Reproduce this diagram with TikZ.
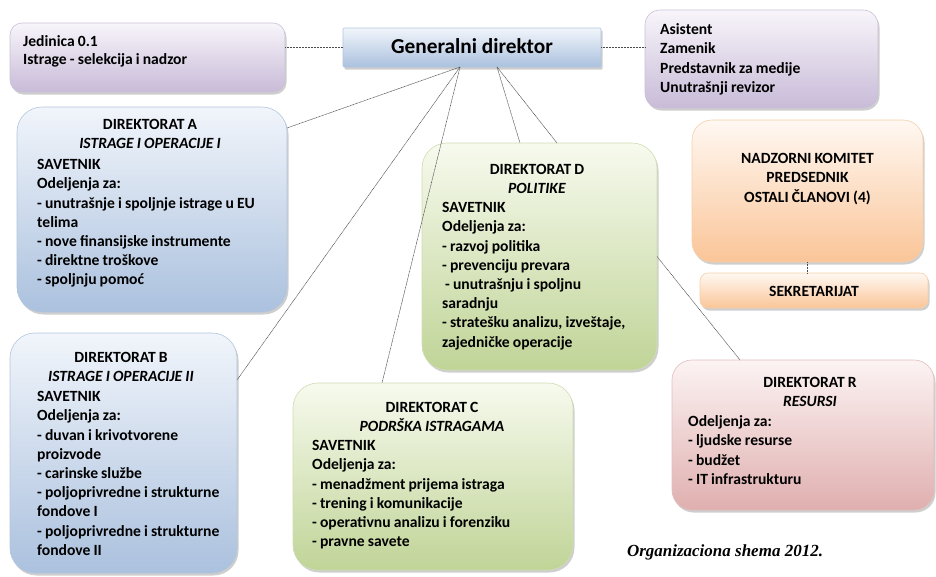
\documentclass[tikz,border=0pt]{standalone}
\usepackage{fontspec}
\setmainfont{Carlito}
\newfontfamily\capfont{Liberation Serif}
\usetikzlibrary{shadows,calc}
\newcommand\tightsp{\spaceskip=0.2em plus 0.05em\relax}

\definecolor{bluetop}{HTML}{F1F5FB}
\definecolor{bluebot}{HTML}{ABC1DE}
\definecolor{blueline}{HTML}{B2C5DD}
\definecolor{greentop}{HTML}{F7FAEE}
\definecolor{greenbot}{HTML}{C0D497}
\definecolor{greenline}{HTML}{CFDDB2}
\definecolor{orangetop}{HTML}{FFF8F2}
\definecolor{orangebot}{HTML}{FAC598}
\definecolor{orangeline}{HTML}{F6CFAA}
\definecolor{pinktop}{HTML}{FCF3F3}
\definecolor{pinkbot}{HTML}{E0AFAF}
\definecolor{pinkline}{HTML}{E2BDBD}
\definecolor{purptop}{HTML}{F8F5FA}
\definecolor{purpbot}{HTML}{C8BBD8}
\definecolor{purpline}{HTML}{CBC0D8}
\definecolor{conn}{HTML}{4A4A4A}

\tikzset{
  x=1pt, y=-1pt,
  boxbase/.style={line width=0.6pt, inner sep=0pt, outer sep=0pt,
    drop shadow={shadow xshift=1.5pt, shadow yshift=-2.5pt, opacity=0.35, fill=black!55}},
  bluebox/.style={boxbase, draw=blueline, top color=bluetop, bottom color=bluebot},
  greenbox/.style={boxbase, draw=greenline, top color=greentop, bottom color=greenbot},
  orangebox/.style={boxbase, draw=orangeline, top color=orangetop, bottom color=orangebot},
  pinkbox/.style={boxbase, draw=pinkline, top color=pinktop, bottom color=pinkbot},
  purpbox/.style={boxbase, draw=purpline, top color=purptop, bottom color=purpbot},
  bodytxt/.style={inner sep=0pt, anchor=north west, align=left,
    font=\fontsize{15.6}{19.2}\selectfont\bfseries\tightsp},
  headtxt/.style={inner sep=0pt, anchor=north, align=center,
    font=\fontsize{15.6}{19.2}\selectfont\bfseries\tightsp},
  conn/.style={draw=conn, line width=0.5pt, dash pattern=on 1pt off 0.5pt},
}

\begin{document}
\begin{tikzpicture}
\useasboundingbox (0,0) rectangle (936,576);

% boxes
\node[purpbox, rounded corners=12pt, minimum width=275pt, minimum height=69pt] (jed) at (147.5,57.5) {};
\node[bluebox, rounded corners=1pt, minimum width=258pt, minimum height=39pt] (gd) at (472,47.5) {};
\node[purpbox, rounded corners=15pt, minimum width=233pt, minimum height=98pt] (as) at (761.5,59) {};
\node[bluebox, rounded corners=25pt, minimum width=270pt, minimum height=205pt] (a) at (152,209.5) {};
\node[bluebox, rounded corners=25pt, minimum width=227pt, minimum height=240pt] (b) at (123.5,453) {};
\node[greenbox, rounded corners=25pt, minimum width=280pt, minimum height=187pt] (c) at (433,476.5) {};
\node[greenbox, rounded corners=25pt, minimum width=235pt, minimum height=227pt] (d) at (539.5,256.5) {};
\node[orangebox, rounded corners=20pt, minimum width=231pt, minimum height=142pt] (nk) at (807.5,191) {};
\node[orangebox, rounded corners=8pt, minimum width=228pt, minimum height=35pt] (sk) at (814,290.5) {};
\node[pinkbox, rounded corners=20pt, minimum width=262pt, minimum height=150pt] (r) at (803,435) {};

% fan points under the general director
\coordinate (fanl) at ($(gd.south)+(-12,0)$);
\coordinate (fanr) at ($(gd.south)+(25,0)$);

% connectors
\draw[conn] (gd.west) -- (gd.west -| jed.east);
\draw[conn] (gd.east) -- (gd.east -| as.west);
\draw[conn] (fanl) -- ($(a.north east)+(0,21)$);
\draw[conn] (fanl) -- ($(b.north east)+(0,47)$);
\draw[conn] (fanl) -- ($(c.north west)+(89,0)$);
\draw[conn] (fanr) -- ($(d.north west)+(98,0)$);
\draw[conn] (fanr) -- ($(d.north west)+(135,0)$);
\draw[conn] (d.east) -- ($(r.north west)+(68,0)$);
\draw[conn] (nk.south) -- (nk.south |- sk.north);

% texts
\node[inner sep=0pt, font=\fontsize{21.3}{25}\selectfont\bfseries] (gdt) at (472,46) {Generalni direktor};

\node[bodytxt, font=\fontsize{15.6}{18.5}\selectfont\bfseries\tightsp] (jedt) at (23,33) {\strut Jedinica 0.1\\Istrage - selekcija i nadzor};
\node[bodytxt] (ast) at (660,21) {\strut Asistent\\Zamenik\\Predstavnik za medije\\Unutrašnji revizor};

\node[headtxt] (ah) at (150,116) {\strut DIREKTORAT A\\\textit{ISTRAGE I OPERACIJE I}};
\node[bodytxt] (ab) at (37,156) {\strut SAVETNIK\\Odeljenja za:\\- unutrašnje i spoljnje istrage u EU\\telima\\- nove finansijske instrumente\\- direktne troškove\\- spoljnju pomoć};

\node[headtxt] (bh) at (121,349) {\strut DIREKTORAT B\\\textit{ISTRAGE I OPERACIJE II}};
\node[bodytxt] (bb) at (37,388) {\strut SAVETNIK\\Odeljenja za:\\- duvan i krivotvorene\\proizvode\\- carinske službe\\- poljoprivredne i strukturne\\fondove I\\- poljoprivredne i strukturne\\fondove II};

\node[headtxt] (ch) at (432,399) {\strut DIREKTORAT C\\\textit{PODRŠKA ISTRAGAMA}};
\node[bodytxt] (cb) at (312,437) {\strut SAVETNIK\\Odeljenja za:\\- menadžment prijema istraga\\- trening i komunikacije\\- operativnu analizu i forenziku\\- pravne savete};

\node[headtxt] (dh) at (537,161) {\strut DIREKTORAT D\\\textit{POLITIKE}};
\node[bodytxt] (db) at (442,199) {\strut SAVETNIK\\Odeljenja za:\\- razvoj politika\\- prevenciju prevara\\\hspace*{3pt}- unutrašnju i spoljnu\\saradnju\\- stratešku analizu, izveštaje,\\zajedničke operacije};

\node[headtxt] (rh) at (810,374) {\strut DIREKTORAT R\\\textit{RESURSI}};
\node[bodytxt] (rb) at (688,413) {\strut Odeljenja za:\\- ljudske resurse\\- budžet\\- IT infrastrukturu};

\node[headtxt, anchor=center] (nkt) at (807.5,179) {NADZORNI KOMITET\\PREDSEDNIK\\OSTALI ČLANOVI (4)};
\node[headtxt, anchor=center] (skt) at (814,291) {SEKRETARIJAT};

\node[inner sep=0pt, font=\capfont\fontsize{17}{20}\selectfont\bfseries\itshape] (cap) at (725,552) {Organizaciona shema 2012.};
\end{tikzpicture}
\end{document}
